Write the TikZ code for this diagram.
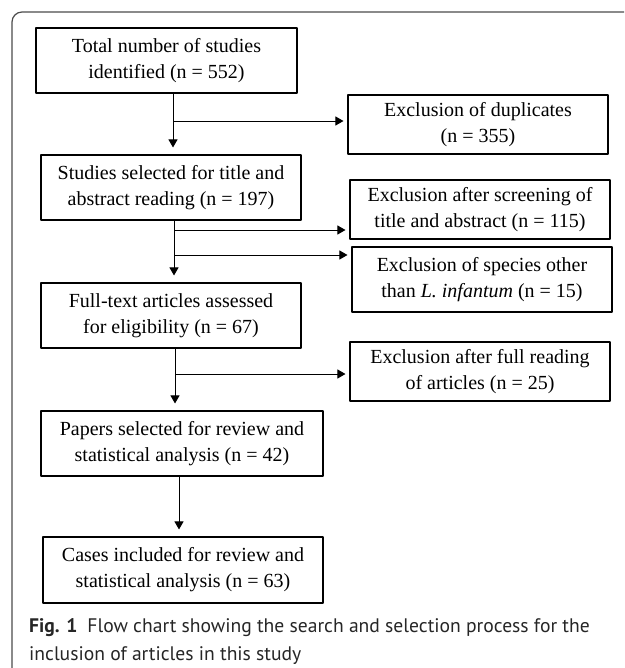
\documentclass[tikz,border=0pt]{standalone}
\usepackage{fontspec}
\setmainfont{Liberation Serif}
\newfontfamily\capfont{PT Sans}
\usetikzlibrary{arrows.meta,positioning}

\begin{document}
\begin{tikzpicture}[x=1pt,y=-1pt,>={Triangle[length=8pt,width=9pt]}, line join=round,
	box/.style={draw,line width=1.1pt,align=center,inner sep=0pt,minimum width=260pt,minimum height=65pt,font=\fontsize{20}{26}\selectfont},
	exbox/.style={box,minimum height=59pt},
	down/.style={->,line width=0.9pt,shorten >=7pt},
	side/.style={->,line width=0.9pt,shorten >=4pt}]
	\useasboundingbox (0,0) rectangle (624,668);
	\draw[line width=1.2pt,gray!60!black,rounded corners=10pt] (624,12)--(12,12)--(12,668);
	% main column
	\node[box,minimum width=261pt] (total) at (166.5,60.5) {Total number of studies\\identified (n = 552)};
	\node[box] (title) at (171,187.5) {Studies selected for title and\\abstract reading (n = 197)};
	\node[box] (full) at (171,315.5) {Full-text articles assessed\\for eligibility (n = 67)};
	\node[box,minimum width=282pt] (papers) at (182,443.5) {Papers selected for review and\\statistical analysis (n = 42)};
	\node[box,minimum width=280pt,minimum height=66pt] (cases) at (183,570) {Cases included for review and\\statistical analysis (n = 63)};
	% exclusions
	\node[exbox] (dup) at (478,124.5) {Exclusion of duplicates\\(n = 355)};
	\node[exbox] (screen) at (480,209.5) {Exclusion after screening of\\title and abstract (n = 115)};
	\node[box] (species) at (482,279.5) {Exclusion of species other\\than \textit{L. infantum} (n = 15)};
	\node[exbox] (reading) at (480,371.5) {Exclusion after full reading\\of articles (n = 25)};
	% junctions
	\coordinate (j1) at (173,121);
	\coordinate (j2) at (174,230);
	\coordinate (j3) at (174,255);
	\coordinate (j4) at (175,374);
	\coordinate (j5) at (179,500);
	\draw[down] (total.south -| j1)--(title.north -| j1);
	\draw[side] (j1)--(j1 -| dup.west);
	\draw[down] (title.south -| j2)--(full.north -| j2);
	\draw[side] (j2)--(j2 -| screen.west);
	\draw[side] (j3)--(j3 -| species.west);
	\draw[down] (full.south -| j4)--(papers.north -| j4);
	\draw[side] (j4)--(j4 -| reading.west);
	\draw[down] (papers.south -| j5)--(cases.north -| j5);
	% caption
	\node[anchor=base west,inner sep=0pt,align=left,text=black!85,font=\capfont\fontsize{19.6}{28}\selectfont] (cap) at (29,660)
		{\textbf{Fig. 1}\hspace{10pt}Flow chart showing the search and selection process for the\\inclusion of articles in this study};
\end{tikzpicture}
\end{document}
